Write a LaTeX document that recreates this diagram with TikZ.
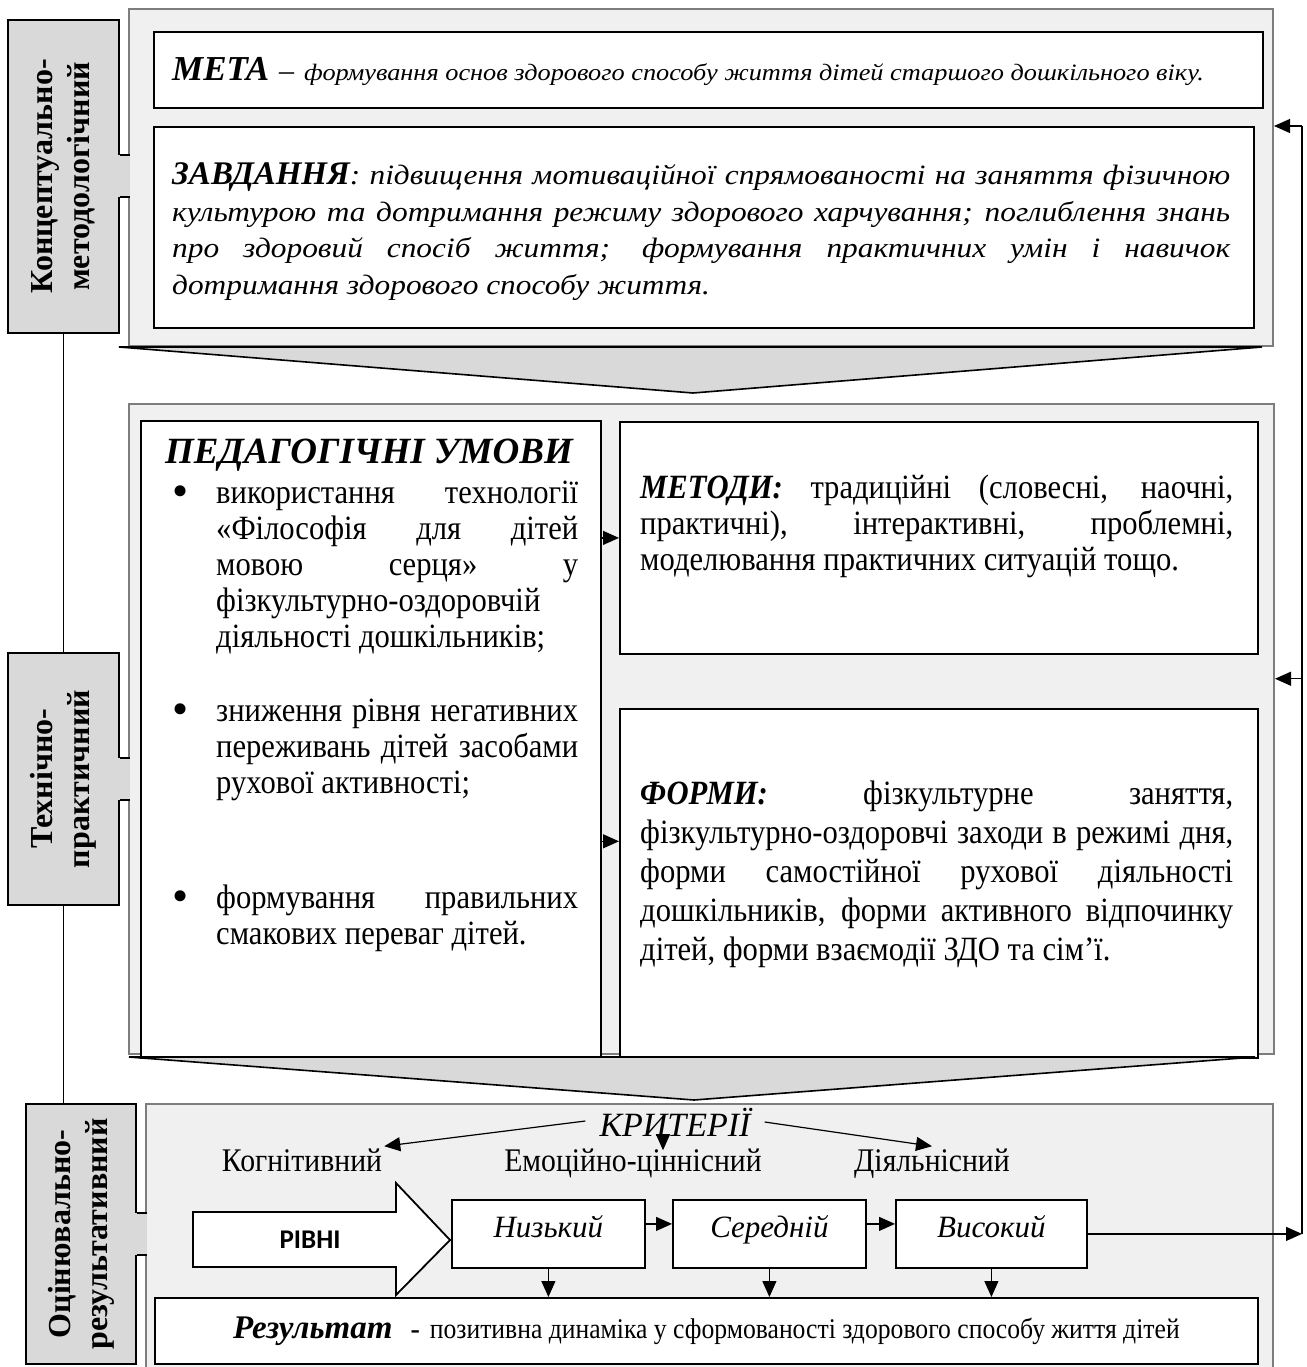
\documentclass[tikz,border=0pt]{standalone}
\usepackage{fontspec}
\setmainfont{Liberation Serif}
\newfontfamily\widefont{Liberation Serif}[FakeStretch=1.12]
\newfontfamily\narrowfont{Liberation Serif}[FakeStretch=0.9]
\newfontfamily\rivnifont{Carlito}
\usetikzlibrary{arrows.meta,calc}

\definecolor{panelgray}{RGB}{240,240,240}
\definecolor{labelgray}{RGB}{217,217,217}
\definecolor{edgegray}{RGB}{125,125,125}

\tikzset{
  panel/.style={draw=edgegray, line width=2pt, fill=panelgray, anchor=north west, inner sep=0pt},
  wbox/.style={draw, line width=1.8pt, fill=white, anchor=north west, inner sep=0pt},
  sidebox/.style={draw, line width=1.8pt, fill=labelgray, anchor=north west, inner sep=0pt, minimum width=111pt},
  sidelabel/.style={font=\bfseries\fontsize{32}{37}\selectfont, rotate=90, align=center, inner sep=0pt},
  chevron/.style={fill=labelgray, draw, line width=1.6pt, line join=miter},
  bodytext/.style={font=\narrowfont\fontsize{34}{36}\selectfont, align=justify, anchor=base west, inner sep=0pt},
  bulletmark/.style={font=\fontsize{46}{46}\selectfont, anchor=base west, inner sep=0pt},
  crittext/.style={font=\narrowfont\fontsize{33}{36}\selectfont, inner sep=2pt, anchor=base},
  levelbox/.style={wbox, minimum width=193pt, minimum height=68pt, text height=14pt, text depth=6pt,
                   font=\itshape\fontsize{31}{36}\selectfont},
  arr/.style={line width=1.2pt, -{Triangle[length=16pt,width=14pt]}},
  conn/.style={line width=1.2pt}
}

% tab joining a side label to its panel
\newcommand{\sidetab}[1]{%
  \fill[labelgray] ([xshift=-2pt,yshift=21pt]#1.east) rectangle ([xshift=10pt,yshift=-21pt]#1.east);
  \draw[line width=1.8pt] ([yshift=21pt]#1.east) -- ++(10,0);
  \draw[line width=1.8pt] ([yshift=-21pt]#1.east) -- ++(10,0);
}

\begin{document}
\begin{tikzpicture}[x=1pt,y=-1pt]
\useasboundingbox (0,0) rectangle (1306,1367);

% --- concept level
\node[panel, minimum width=1144pt, minimum height=337pt] (pan1) at (128,8) {};
\node[wbox, minimum width=1109pt, minimum height=76pt] (meta) at (153,31) {};
\node[wbox, minimum width=1100pt, minimum height=201pt] (zavd) at (153,126) {};
\node[anchor=base west, inner sep=0pt] (metatxt) at (172,81)
  {{\bfseries\itshape\fontsize{35}{40}\selectfont МЕТА}\hspace{10pt}{\fontsize{30}{30}\selectfont –}\hspace{10pt}%
   {\widefont\itshape\fontsize{23.5}{28}\selectfont формування основ здорового способу життя дітей старшого дошкільного віку.}};
\node[anchor=base west, inner sep=0pt, text width=1058pt, align=justify,
      font=\widefont\itshape\fontsize{28}{36.5}\selectfont] (zavdtxt) at (172,185)
  {{\normalfont\bfseries\itshape\fontsize{33}{36.5}\selectfont ЗАВДАННЯ}: підвищення мотиваційної спрямованості на заняття фізичною\linebreak
   культурою та дотримання режиму здорового харчування; поглиблення знань\linebreak
   про здоровий спосіб життя; формування практичних умін і навичок\linebreak
   дотримання здорового способу життя.};

\node[sidebox, minimum height=313pt] (konc) at (7,19) {};
\sidetab{konc}
\node[sidelabel] (konctxt) at (konc.center) {Концептуально-\\методологічний};

\filldraw[chevron] (119,347) -- (1262,347) -- (693,393) -- cycle;

% --- technical level
\node[panel, minimum width=1145pt, minimum height=650pt] (pan2) at (128,403) {};
\node[wbox, minimum width=460pt, minimum height=637pt] (ped) at (140,420) {};
\node[wbox, minimum width=638pt, minimum height=232pt] (met) at (619,421) {};
\node[wbox, minimum width=638pt, minimum height=349pt] (form) at (619,708) {};

\node[anchor=base, inner sep=0pt, font=\bfseries\itshape\fontsize{37}{42}\selectfont] (pedtitle) at (369,463) {ПЕДАГОГІЧНІ УМОВИ};
\node[bulletmark] (dot1) at (172,506) {\textbullet};
\node[bodytext, text width=362pt] (item1) at (216,503)
  {використання технології\linebreak
   «Філософія для дітей\linebreak мовою серця» у\linebreak фізкультурно-оздоровчій\\ діяльності дошкільників;};
\node[bulletmark] (dot2) at (172,724) {\textbullet};
\node[bodytext, text width=362pt] (item2) at (216,721)
  {зниження рівня негативних\linebreak
   переживань дітей засобами\linebreak рухової активності;};
\node[bulletmark] (dot3) at (172,911) {\textbullet};
\node[bodytext, text width=362pt] (item3) at (216,908)
  {формування правильних\linebreak
   смакових переваг дітей.};

\node[bodytext, text width=593pt] (mettxt) at (640,498)
  {{\bfseries\itshape МЕТОДИ:} традиційні (словесні, наочні,\linebreak
   практичні), інтерактивні, проблемні,\linebreak моделювання практичних ситуацій тощо.};
\node[bodytext, text width=593pt, font=\narrowfont\fontsize{34}{39}\selectfont] (formtxt) at (640,804)
  {{\bfseries\itshape ФОРМИ:} фізкультурне заняття,\linebreak
   фізкультурно-оздоровчі заходи в режимі дня,\linebreak
   форми самостійної рухової діяльності\linebreak
   дошкільників, форми активного відпочинку\linebreak
   дітей, форми взаємодії ЗДО та сім’ї.};

\coordinate (formin) at ($(form.north west)!0.38!(form.south west)$);
\draw[arr] (met.west -| ped.east) -- (met.west);
\draw[arr] (formin -| ped.east) -- (formin);

\node[sidebox, minimum height=252pt] (tech) at (7,652) {};
\sidetab{tech}
\node[sidelabel] (techtxt) at (tech.center) {Технічно-\\практичний};

\filldraw[chevron] (129,1057) -- (1255,1057) -- (694,1100) -- cycle;

% --- evaluation level
\node[panel, minimum width=1127pt, minimum height=300pt] (pan3) at (145,1103) {};
\node[sidebox, minimum width=110pt, minimum height=260pt] (ots) at (25,1103) {};
\sidetab{ots}
\node[sidelabel] (otstxt) at (ots.center) {Оцінювально-\\результативний};

\node[font=\itshape\fontsize{34}{38}\selectfont, inner xsep=14pt, inner ysep=2pt] (krit) at (675,1122) {КРИТЕРІЇ};
\node[crittext] (kog) at (302,1171) {Когнітивний};
\node[crittext] (emo) at (633,1171) {Емоційно-ціннісний};
\node[crittext] (dial) at (932,1171) {Діяльнісний};
\draw[arr] ([yshift=1pt]krit.west) -- (kog.north east);
\draw[arr] ([xshift=-12pt]krit.south) -- ([xshift=-12pt,yshift=-4pt]krit.south |- emo.north);
\draw[arr] (krit.east) -- (dial.north);

\filldraw[fill=white, draw, line width=1.8pt] (193,1212) -- (396,1212) -- (396,1183) -- (450,1240)
  -- (396,1295) -- (396,1267) -- (193,1267) -- cycle;
\node[font=\rivnifont\bfseries\fontsize{27}{30}\selectfont] (rivni) at (310,1240) {РІВНІ};

\node[levelbox] (niz) at (451,1199) {Низький};
\node[levelbox] (ser) at (672,1199) {Середній};
\node[levelbox, minimum width=191pt] (vys) at (895,1199) {Високий};
\node[wbox, minimum width=1103pt, minimum height=66pt] (res) at (154,1297) {};
\node[inner sep=0pt] (restxt) at (res.center)
  {{\bfseries\itshape\fontsize{33}{36}\selectfont Результат}\hspace{18pt}{\bfseries\fontsize{28}{30}\selectfont -}\hspace{10pt}%
   {\narrowfont\fontsize{28.5}{30}\selectfont позитивна динаміка у сформованості здорового способу життя дітей}};

\draw[arr] ([yshift=10pt]niz.east) -- ([yshift=10pt]ser.west);
\draw[arr] ([yshift=10pt]ser.east) -- ([yshift=10pt]vys.west);
\draw[arr] (niz.south) -- (niz.south |- res.north);
\draw[arr] (ser.south) -- (ser.south |- res.north);
\draw[arr] (vys.south) -- (vys.south |- res.north);

% --- feedback line on the right
\coordinate (fbx) at (1302,0);
\coordinate (fbmid) at ($(met.south)!0.45!(form.north)$);
\draw[arr] (vys.east) -- (vys.east -| fbx);
\draw[conn] (vys.east -| fbx) -- (fbx |- zavd.north);
\draw[arr] (fbx |- zavd.north) -- (pan1.east |- zavd.north);
\draw[arr] (fbmid -| fbx) -- (fbmid -| pan2.east);

% --- links between side labels
\draw[conn] (konc.south) -- (tech.north);
\draw[conn] (tech.south) -- (tech.south |- ots.north);
\end{tikzpicture}
\end{document}
